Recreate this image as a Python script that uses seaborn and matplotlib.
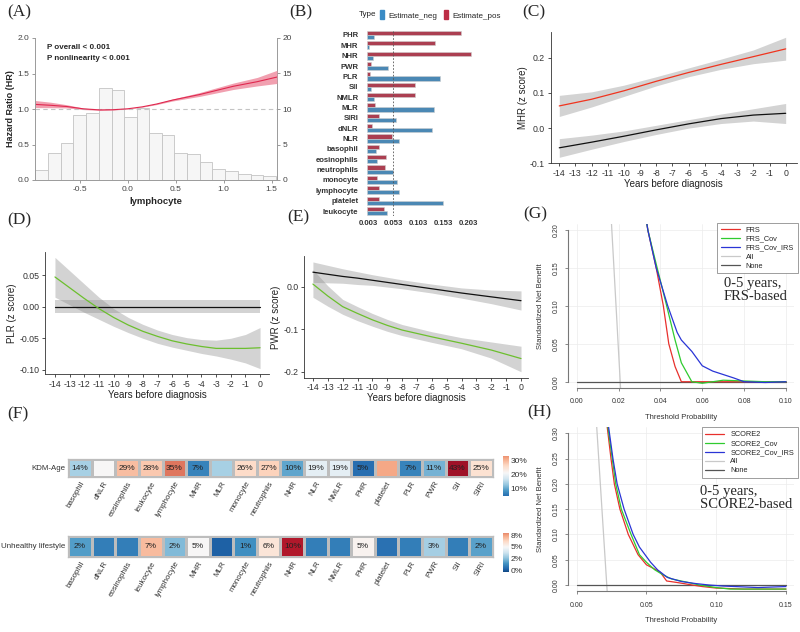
import numpy as np
import pandas as pd
import matplotlib
matplotlib.use("Agg")
import matplotlib.pyplot as plt
import seaborn as sns
from matplotlib.colors import TwoSlopeNorm
from matplotlib.patches import Patch

# ==========================================
# DATA
# ==========================================

# (A) lymphocyte spline + distribution
lym_x = [-0.966, -0.80, -0.635, -0.46, -0.29, -0.15, 0.0, 0.15, 0.30, 0.465, 0.75, 1.10, 1.35, 1.555]
lym_hr = [1.065, 1.052, 1.035, 1.002, 0.987, 0.990, 1.003, 1.03, 1.07, 1.125, 1.204, 1.32, 1.385, 1.45]
lym_lo = [1.02, 1.018, 1.015, 0.992, 0.980, 0.985, 1.0, 1.026, 1.062, 1.112, 1.178, 1.275, 1.325, 1.36]
lym_hi = [1.12, 1.095, 1.06, 1.013, 0.995, 0.995, 1.006, 1.034, 1.078, 1.14, 1.232, 1.365, 1.445, 1.545]
hist_edges = [-0.966, -0.83, -0.695, -0.565, -0.434, -0.30, -0.167, -0.035, 0.094, 0.222,
              0.354, 0.485, 0.62, 0.753, 0.881, 1.014, 1.146, 1.281, 1.413, 1.545]
hist_pct = [1.35, 3.75, 5.15, 9.1, 9.4, 13.0, 12.7, 8.9, 10.1, 6.65,
            6.3, 3.75, 3.6, 2.5, 1.5, 1.25, 0.85, 0.7, 0.5]

# (B) estimates
markers_b = ["PHR", "MHR", "NHR", "PWR", "PLR", "SII", "NMLR", "MLR", "SIRI", "dNLR", "NLR",
             "basophil", "eosinophils", "neutrophils", "monocyte", "lymphocyte", "platelet", "leukocyte"]
est_pos = [0.188, 0.136, 0.209, 0.009, 0.006, 0.096, 0.096, 0.017, 0.025, 0.010, 0.051,
           0.025, 0.038, 0.037, 0.021, 0.025, 0.024, 0.035]
est_neg = [0.014, 0.005, 0.013, 0.042, 0.146, 0.009, 0.014, 0.134, 0.059, 0.131, 0.065,
           0.018, 0.021, 0.053, 0.061, 0.065, 0.152, 0.040]
b_ticks = [0.003, 0.053, 0.103, 0.153, 0.203]

# (C) MHR trajectories
yrs_c = [-14, -12, -10, -8, -6, -4, -2, 0]
mhr_case = [0.063, 0.082, 0.106, 0.133, 0.158, 0.181, 0.203, 0.225]
mhr_case_lo = [0.033, 0.060, 0.090, 0.120, 0.146, 0.167, 0.183, 0.193]
mhr_case_hi = [0.093, 0.103, 0.122, 0.146, 0.171, 0.196, 0.222, 0.258]
mhr_ctrl = [-0.056, -0.040, -0.023, -0.005, 0.012, 0.027, 0.037, 0.042]
mhr_ctrl_lo = [-0.083, -0.060, -0.038, -0.018, 0.000, 0.013, 0.020, 0.013]
mhr_ctrl_hi = [-0.030, -0.020, -0.008, 0.008, 0.024, 0.040, 0.055, 0.070]

# (D) PLR trajectories
yrs_d = [-14, -13, -12, -11, -10, -9, -8, -7, -6, -5, -4, -3, -2, -1, 0]
plr_case = [0.047, 0.030, 0.013, -0.003, -0.017, -0.029, -0.039, -0.047, -0.054, -0.059,
            -0.063, -0.066, -0.066, -0.066, -0.065]
plr_case_lo = [0.015, 0.003, -0.009, -0.020, -0.031, -0.041, -0.050, -0.058, -0.064, -0.069,
               -0.074, -0.078, -0.083, -0.089, -0.098]
plr_case_hi = [0.078, 0.057, 0.036, 0.015, -0.003, -0.017, -0.028, -0.037, -0.044, -0.049,
               -0.052, -0.053, -0.050, -0.044, -0.033]
plr_ctrl = [0.0] * 15
plr_ctrl_lo = [-0.01] * 15
plr_ctrl_hi = [0.01] * 15

# (E) PWR trajectories
yrs_e = [-14, -13, -12, -11, -10, -9, -8, -6, -4, -2, 0]
pwr_ctrl = [0.034, 0.029, 0.024, 0.020, 0.015, 0.010, 0.005, -0.005, -0.015, -0.024, -0.033]
pwr_ctrl_lo = [0.010, 0.009, 0.008, 0.005, 0.003, -0.001, -0.005, -0.015, -0.027, -0.040, -0.055]
pwr_ctrl_hi = [0.058, 0.050, 0.042, 0.035, 0.028, 0.022, 0.016, 0.006, -0.003, -0.008, -0.010]
pwr_case = [0.006, -0.022, -0.047, -0.063, -0.078, -0.091, -0.102, -0.118, -0.133, -0.149, -0.169]
pwr_case_lo = [-0.025, -0.046, -0.065, -0.080, -0.093, -0.105, -0.115, -0.131, -0.146, -0.168, -0.200]
pwr_case_hi = [0.040, 0.002, -0.030, -0.047, -0.063, -0.077, -0.089, -0.106, -0.120, -0.130, -0.140]

# (F) heatmaps
markers_f = ["basophil", "dNLR", "eosinophils", "leukocyte", "lymphocyte", "MHR", "MLR", "monocyte",
             "neutrophils", "NHR", "NLR", "NMLR", "PHR", "platelet", "PLR", "PWR", "SII", "SIRI"]
kdm_vals = [14, 21, 29, 28, 35, 7, 14, 26, 27, 10, 19, 19, 5, 31, 7, 11, 43, 25]
kdm_show = [1, 0, 1, 1, 1, 1, 0, 1, 1, 1, 1, 1, 1, 0, 1, 1, 1, 1]
life_vals = [1.7, 0.9, 0.9, 7.0, 2.4, 5.0, 0.2, 1.4, 5.8, 10.0, 0.9, 0.9, 5.2, 0.6, 0.9, 3.0, 0.9, 1.8]
life_show = [1, 0, 0, 1, 1, 1, 0, 1, 1, 1, 0, 0, 1, 0, 0, 1, 0, 1]

# (G) decision curves, FRS-based
frs_x = [0.030, 0.034, 0.038, 0.0414, 0.044, 0.047, 0.050, 0.060, 0.070, 0.080, 0.090, 0.100]
frs_y = [0.270, 0.200, 0.150, 0.100, 0.050, 0.020, 0.0, 0.0, 0.0, 0.0, 0.0, 0.0]
frs_cov_x = [0.030, 0.034, 0.038, 0.043, 0.047, 0.050, 0.055, 0.060, 0.070, 0.080, 0.090, 0.100]
frs_cov_y = [0.270, 0.200, 0.155, 0.100, 0.055, 0.025, 0.0, -0.002, 0.002, 0.001, 0.0, 0.0]
frs_irs_x = [0.030, 0.034, 0.038, 0.0435, 0.048, 0.050, 0.055, 0.060, 0.065, 0.070, 0.075, 0.080, 0.090, 0.100]
frs_irs_y = [0.270, 0.200, 0.150, 0.100, 0.065, 0.055, 0.040, 0.021, 0.014, 0.0095, 0.005, 0.0, -0.001, 0.0]
frs_all_x = [0.015, 0.0215]
frs_all_y = [0.290, -0.035]

# (H) decision curves, SCORE2-based
sc_x = [0.020, 0.022, 0.0246, 0.027, 0.031, 0.037, 0.044, 0.050, 0.057, 0.060, 0.0645, 0.072, 0.083,
        0.090, 0.100, 0.120, 0.150]
sc_y = [0.360, 0.310, 0.250, 0.200, 0.150, 0.100, 0.060, 0.040, 0.030, 0.025, 0.008, 0.005, 0.0,
        -0.003, -0.006, -0.008, -0.008]
sc_cov_x = [0.020, 0.0225, 0.028, 0.032, 0.039, 0.045, 0.050, 0.056, 0.062, 0.068, 0.080, 0.088,
            0.100, 0.110, 0.150]
sc_cov_y = [0.370, 0.310, 0.200, 0.150, 0.100, 0.060, 0.045, 0.030, 0.020, 0.012, 0.005, 0.0,
            -0.005, -0.008, -0.008]
sc_irs_x = [0.020, 0.023, 0.026, 0.029, 0.034, 0.0405, 0.045, 0.049, 0.053, 0.058, 0.065, 0.075,
            0.085, 0.095, 0.105, 0.130, 0.150]
sc_irs_y = [0.380, 0.310, 0.250, 0.200, 0.150, 0.100, 0.075, 0.060, 0.045, 0.030, 0.015, 0.007,
            0.003, 0.0, -0.002, -0.005, -0.003]
sc_all_x = [0.0135, 0.0225]
sc_all_y = [0.350, -0.040]

# ==========================================
# FIGURE
# ==========================================
W, H = 800, 632
sns.set_theme(style="ticks")
plt.rcParams['font.family'] = ['Liberation Sans', 'DejaVu Sans']
SERIF = ['Liberation Serif', 'DejaVu Serif']

fig = plt.figure(figsize=(W / 100, H / 100), dpi=100)


def px_axes(x0, y0, x1, y1):
    return fig.add_axes([x0 / W, 1 - y1 / H, (x1 - x0) / W, (y1 - y0) / H])


for lab, (lx, ly) in {"(A)": (7, 4), "(B)": (289, 4), "(C)": (522, 4), "(D)": (7, 212),
                      "(E)": (287, 209), "(F)": (7, 406), "(G)": (523, 206), "(H)": (527, 404)}.items():
    fig.text(lx / W, 1 - ly / H, lab, family=SERIF, size=12.5, va='top', ha='left')

# ---------- (A) ----------
axA = px_axes(35, 38, 277, 180)
axA2 = axA.twinx()
axA2.bar(hist_edges[:-1], hist_pct, width=np.diff(hist_edges), align='edge',
         color='#f6f6f6', edgecolor='#c4c4c4', linewidth=0.6)
axA2.set_ylim(0, 20)
axA.set_zorder(axA2.get_zorder() + 1)
axA.patch.set_visible(False)
axA.axhline(1, color='#c4c4c4', ls=(0, (4, 3)), lw=0.8)
axA.fill_between(lym_x, lym_lo, lym_hi, color='#ef8fa2', alpha=0.85, lw=0)
sns.lineplot(x=lym_x, y=lym_hr, ax=axA, color='#e0284f', lw=0.8)
axA.set_xlim(-0.966, 1.555)
axA.set_ylim(0, 2)
axA.set_xticks([-0.5, 0.0, 0.5, 1.0, 1.5])
axA.set_xticklabels(["-0.5", "0.0", "0.5", "1.0", "1.5"])
axA.set_yticks([0, 0.5, 1.0, 1.5, 2.0])
axA.set_yticklabels(["0.0", "0.5", "1.0", "1.5", "2.0"])
axA2.set_yticks([0, 5, 10, 15, 20])
for a in (axA, axA2):
    for s in a.spines.values():
        s.set_visible(False)
    a.tick_params(colors='#8a8a8a', labelcolor='#444444', labelsize=6, length=2.5, width=0.6, pad=1.5)
axA.spines['left'].set_visible(True)
axA.spines['bottom'].set_visible(True)
axA2.spines['right'].set_visible(True)
for s in (axA.spines['left'], axA.spines['bottom'], axA2.spines['right']):
    s.set_color('#9a9a9a')
    s.set_linewidth(0.7)
axA.set_ylabel("Hazard Ratio (HR)", size=6.5, weight='bold', labelpad=2)
axA.set_xlabel("lymphocyte", size=6.8, weight='bold', labelpad=3)
axA.text(0.05, 0.955, "P overall < 0.001", transform=axA.transAxes, size=5.8, weight='bold', va='top')
axA.text(0.05, 0.88, "P nonlinearity < 0.001", transform=axA.transAxes, size=5.8, weight='bold', va='top')

# ---------- (B) ----------
dfB = pd.DataFrame({
    'marker': markers_b * 2,
    'Estimate': est_pos + est_neg,
    'Type': ['Estimate_pos'] * len(markers_b) + ['Estimate_neg'] * len(markers_b),
})
pal_b = {'Estimate_pos': '#bd2d45', 'Estimate_neg': '#3a8bc5'}
axB = px_axes(366.7, 29.8, 479.2, 216.2)
sns.barplot(data=dfB, y='marker', x='Estimate', hue='Type', order=markers_b,
            hue_order=['Estimate_pos', 'Estimate_neg'], palette=pal_b, orient='h',
            width=0.8, legend=False, edgecolor='#cfcfcf', linewidth=0.4, ax=axB)
axB.axvline(0.053, color='#555555', ls=(0, (2, 2)), lw=0.6)
axB.set_xlim(0, 0.225)
axB.set_ylim(len(markers_b) - 0.5, -0.5)
axB.set_xticks(b_ticks)
axB.set_xticklabels([f"{t:.3f}" for t in b_ticks])
axB.set_xlabel("")
axB.set_ylabel("")
sns.despine(ax=axB, left=True, bottom=True)
axB.tick_params(length=0, labelsize=5.6, labelcolor='#333333')
axB.tick_params(axis='y', pad=6)
axB.tick_params(axis='x', pad=3)
for t in axB.get_xticklabels() + axB.get_yticklabels():
    t.set_fontweight('bold')
fig.text(359 / W, 1 - 15 / H, "Type", size=5.8, va='center', color='#222222')
fig.legend(handles=[Patch(color=pal_b['Estimate_neg']), Patch(color=pal_b['Estimate_pos'])],
           labels=['Estimate_neg', 'Estimate_pos'], ncol=2, loc='center left',
           bbox_to_anchor=(376 / W, 1 - 15 / H), frameon=False, fontsize=5.8,
           handlelength=0.5, handleheight=1.3, columnspacing=0.9, handletextpad=0.5, borderpad=0)


# ---------- (C) (D) (E) ----------
def style_traj(ax, yticks, ylabels, ylab):
    ax.set_xticks(range(-14, 1))
    ax.set_xticklabels([str(v) for v in range(-14, 1)])
    ax.set_yticks(yticks)
    ax.set_yticklabels(ylabels)
    ax.set_xlabel("Years before diagnosis", size=7, labelpad=0.5, color='#222222')
    ax.set_ylabel(ylab, size=7, labelpad=1.5, color='#222222')
    sns.despine(ax=ax)
    for s in ('left', 'bottom'):
        ax.spines[s].set_color('#333333')
        ax.spines[s].set_linewidth(0.6)
    ax.tick_params(labelsize=6.3, length=2.5, width=0.6, color='#333333', labelcolor='#333333', pad=1.5)


band = dict(color='#8c8c8c', alpha=0.38, lw=0)

axC = px_axes(550.7, 32, 797, 163.3)
axC.fill_between(yrs_c, mhr_case_lo, mhr_case_hi, **band)
axC.fill_between(yrs_c, mhr_ctrl_lo, mhr_ctrl_hi, **band)
sns.lineplot(x=yrs_c, y=mhr_case, color='#f0341e', lw=0.9, ax=axC)
sns.lineplot(x=yrs_c, y=mhr_ctrl, color='#111111', lw=0.9, ax=axC)
axC.set_xlim(-14.53, 0.7)
axC.set_ylim(-0.1, 0.273)
style_traj(axC, [-0.1, 0.0, 0.1, 0.2], ["-0.1", "0.0", "0.1", "0.2"], "MHR (z score)")

axD = px_axes(45, 251.7, 269, 374.3)
axD.fill_between(yrs_d, plr_case_lo, plr_case_hi, **band)
axD.fill_between(yrs_d, plr_ctrl_lo, plr_ctrl_hi, **band)
sns.lineplot(x=yrs_d, y=plr_ctrl, color='#111111', lw=0.9, ax=axD)
sns.lineplot(x=yrs_d, y=plr_case, color='#6cbf2e', lw=0.9, ax=axD)
axD.set_xlim(-14.68, 0.61)
axD.set_ylim(-0.107, 0.087)
style_traj(axD, [-0.10, -0.05, 0.0, 0.05], ["-0.10", "-0.05", "0.00", "0.05"], "PLR (z score)")

axE = px_axes(304, 256, 528, 377.7)
axE.fill_between(yrs_e, pwr_ctrl_lo, pwr_ctrl_hi, **band)
axE.fill_between(yrs_e, pwr_case_lo, pwr_case_hi, **band)
sns.lineplot(x=yrs_e, y=pwr_ctrl, color='#111111', lw=0.9, ax=axE)
sns.lineplot(x=yrs_e, y=pwr_case, color='#6cbf2e', lw=0.9, ax=axE)
axE.set_xlim(-14.6, 0.47)
axE.set_ylim(-0.214, 0.072)
style_traj(axE, [-0.2, -0.1, 0.0], ["-0.2", "-0.1", "0.0"], "PWR (z score)")

# ---------- (F) ----------
norm_kdm = TwoSlopeNorm(vmin=0, vcenter=21, vmax=47)
norm_life = TwoSlopeNorm(vmin=-0.9, vcenter=5, vmax=11.25)


def heat_row(rect, vals, show, row_name, norm, cb_rect, cb_lim, cb_ticks, cb_labels):
    ax = px_axes(*rect)
    df = pd.DataFrame([vals], index=[row_name], columns=markers_f)
    annot = np.array([[f"{v:.0f}%" if s else "" for v, s in zip(vals, show)]])
    sns.heatmap(df, ax=ax, cmap='RdBu_r', norm=norm, annot=annot, fmt='', cbar=False,
                linewidths=0.9, linecolor='#bdbdbd', annot_kws={'size': 6, 'color': '#222222'})
    ax.set_xticklabels(markers_f, rotation=60, ha='right', rotation_mode='anchor')
    ax.set_yticklabels([row_name], rotation=0)
    ax.tick_params(length=0, labelsize=5.7, labelcolor='#333333')
    ax.tick_params(axis='x', pad=2)
    ax.tick_params(axis='y', pad=2)
    for s in ax.spines.values():
        s.set_visible(True)
        s.set_color('#bdbdbd')
        s.set_linewidth(0.9)
    cax = px_axes(*cb_rect)
    grad = np.linspace(cb_lim[0], cb_lim[1], 200).reshape(-1, 1)
    cax.imshow(grad, cmap='RdBu_r', norm=norm, aspect='auto', origin='lower',
               extent=[0, 1, cb_lim[0], cb_lim[1]])
    cax.set_xticks([])
    cax.yaxis.tick_right()
    cax.set_yticks(cb_ticks)
    cax.set_yticklabels(cb_labels)
    cax.tick_params(length=0, labelsize=6, labelcolor='#333333', pad=2)
    for s in cax.spines.values():
        s.set_visible(False)


heat_row((68.3, 459.3, 492.7, 477.3), kdm_vals, kdm_show, "KDM-Age", norm_kdm,
         (502.7, 456, 508, 496), (5, 32.8), [10, 20, 30], ["10%", "20%", "30%"])
heat_row((68.3, 536, 492.7, 557.3), life_vals, life_show, "Unhealthy lifestyle", norm_life,
         (502.7, 532.7, 508, 571.7), (-0.35, 8.0), [0, 2.5, 5, 7.5], ["0%", "2%", "5%", "8%"])

# ---------- (G) (H) ----------
dca_cols = {'m': '#e8302c', 'cov': '#2fcb2f', 'irs': '#2a35d6', 'all': '#c9c9c9', 'none': '#555555'}


def dca(rect, xlim, ylim, xb, yb, xt, yt, curves, all_xy, names, leg_anchor, txt, txt_xy):
    ax = px_axes(*rect)
    ax.grid(True, color='#ececec', lw=0.5)
    ax.set_axisbelow(True)
    ax.plot(all_xy[0], all_xy[1], color=dca_cols['all'], lw=0.9, label=names[3])
    ax.plot([xb[0], xb[1]], [0, 0], color=dca_cols['none'], lw=0.9, label=names[4])
    for (cx, cy), key, nm in zip(curves, ['m', 'cov', 'irs'], names[:3]):
        sns.lineplot(x=cx, y=cy, color=dca_cols[key], lw=0.9, ax=ax, sort=False, label=nm, legend=False)
    ax.set_xlim(*xlim)
    ax.set_ylim(*ylim)
    ax.set_xticks(xt)
    ax.set_xticklabels([f"{v:.2f}" for v in xt])
    ax.set_yticks(yt)
    ax.set_yticklabels([f"{v:.2f}" for v in yt], rotation=90, va='center')
    for s in ('top', 'right'):
        ax.spines[s].set_visible(False)
    ax.spines['left'].set_bounds(*yb)
    ax.spines['bottom'].set_bounds(*xb)
    for s in ('left', 'bottom'):
        ax.spines[s].set_color('#777777')
        ax.spines[s].set_linewidth(0.8)
    ax.tick_params(labelsize=5, length=2.5, width=0.6, color='#777777', labelcolor='#333333')
    ax.tick_params(axis='x', pad=5)
    ax.tick_params(axis='y', pad=4)
    ax.set_xlabel("Threshold Probability", size=5.5, labelpad=6, color='#333333')
    ax.set_ylabel("Standardized Net Benefit", size=5.5, labelpad=6, color='#333333')
    h, l = ax.get_legend_handles_labels()
    order = [l.index(n) for n in names]
    ax.legend([h[i] for i in order], [l[i] for i in order], loc='upper right',
              bbox_to_anchor=leg_anchor, bbox_transform=fig.transFigure, borderaxespad=0,
              fontsize=5.3, frameon=True, fancybox=False, edgecolor='#777777', framealpha=1,
              handlelength=2.6, labelspacing=0.25, borderpad=0.5)
    ax.get_legend().get_frame().set_linewidth(0.5)
    fig.text(txt_xy[0] / W, 1 - txt_xy[1] / H, txt, family=SERIF, size=10.5,
             va='center', ha='left', linespacing=1.0)


dca((568.3, 224, 794.4, 387.8), (-0.004, 0.104), (-0.008, 0.208), (0, 0.1), (0, 0.2),
    [0, 0.02, 0.04, 0.06, 0.08, 0.10], [0, 0.05, 0.10, 0.15, 0.20],
    [(frs_x, frs_y), (frs_cov_x, frs_cov_y), (frs_irs_x, frs_irs_y)], (frs_all_x, frs_all_y),
    ["FRS", "FRS_Cov", "FRS_Cov_IRS", "All", "None"],
    (797.7 / W, 1 - 222.7 / H), "0-5 years,\nFRS-based", (724, 290.3))

dca((568.3, 427.2, 794.3, 591.1), (-0.006, 0.156), (-0.012, 0.312), (0, 0.15), (0, 0.3),
    [0, 0.05, 0.10, 0.15], [0, 0.05, 0.10, 0.15, 0.20, 0.25, 0.30],
    [(sc_x, sc_y), (sc_cov_x, sc_cov_y), (sc_irs_x, sc_irs_y)], (sc_all_x, sc_all_y),
    ["SCORE2", "SCORE2_Cov", "SCORE2_Cov_IRS", "All", "None"],
    (797.7 / W, 1 - 427.3 / H), "0-5 years,\nSCORE2-based", (700, 497.5))

fig.savefig("out.png", dpi=100)
